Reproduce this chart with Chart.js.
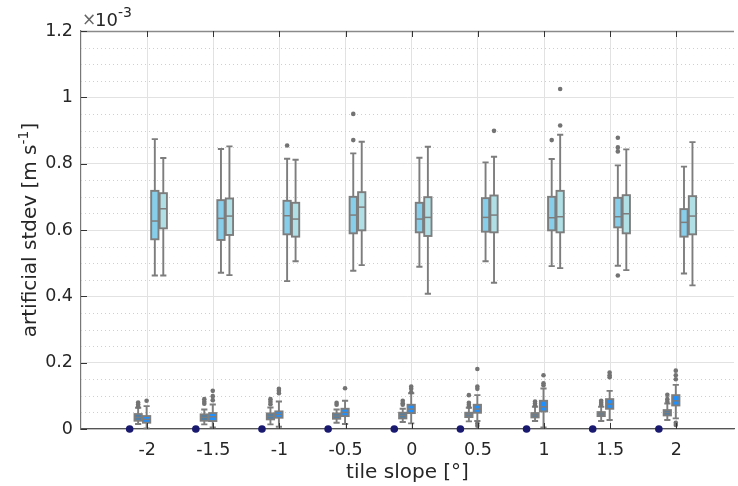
<!DOCTYPE html>
<html>
<head>
<meta charset="utf-8">
<script src="https://cdn.jsdelivr.net/npm/chart.js@4.4.0/dist/chart.umd.min.js"></script>
<style>
  html, body { margin: 0; padding: 0; background: #fff; overflow: hidden; }
</style>
</head>
<body>
<canvas id="myChart" width="738" height="486"></canvas>
<script>
// tile slopes (x categories) and the baseline dots
var slopes = [-2, -1.5, -1, -0.5, 0, 0.5, 1, 1.5, 2];
var baseline = [0, 0, 0, 0, 0, 0, 0, 0, 0];

// box stats per slope, units of 1e-3: [low whisker, q1, median, q3, high whisker]
var smallA = [
  [0.015, 0.025, 0.035, 0.045, 0.064], [0.014, 0.025, 0.035, 0.044, 0.059],
  [0.014, 0.029, 0.038, 0.047, 0.065], [0.019, 0.031, 0.039, 0.047, 0.059],
  [0.021, 0.032, 0.041, 0.049, 0.061], [0.023, 0.036, 0.043, 0.049, 0.064],
  [0.024, 0.035, 0.042, 0.048, 0.067], [0.024, 0.039, 0.045, 0.051, 0.067],
  [0.027, 0.041, 0.050, 0.057, 0.077]
];
var smallB = [
  [0.002, 0.019, 0.029, 0.039, 0.069], [0.005, 0.024, 0.037, 0.048, 0.074],
  [0.007, 0.034, 0.044, 0.053, 0.083], [0.015, 0.039, 0.050, 0.061, 0.085],
  [0.017, 0.048, 0.060, 0.073, 0.108], [0.024, 0.049, 0.060, 0.073, 0.102],
  [0.005, 0.053, 0.067, 0.085, 0.122], [0.027, 0.061, 0.075, 0.090, 0.115],
  [0.032, 0.071, 0.085, 0.102, 0.133]
];
var bigA = [
  [0.463, 0.572, 0.627, 0.718, 0.874], [0.471, 0.570, 0.635, 0.690, 0.844],
  [0.446, 0.587, 0.643, 0.688, 0.815], [0.477, 0.590, 0.645, 0.700, 0.831],
  [0.489, 0.593, 0.633, 0.682, 0.818], [0.506, 0.595, 0.638, 0.696, 0.804],
  [0.491, 0.599, 0.637, 0.700, 0.814], [0.492, 0.608, 0.640, 0.697, 0.795],
  [0.469, 0.580, 0.623, 0.663, 0.791]
];
var bigB = [
  [0.463, 0.605, 0.664, 0.711, 0.817], [0.464, 0.585, 0.642, 0.695, 0.852],
  [0.506, 0.580, 0.633, 0.682, 0.812], [0.494, 0.599, 0.669, 0.714, 0.866],
  [0.408, 0.582, 0.638, 0.699, 0.851], [0.441, 0.593, 0.645, 0.704, 0.821],
  [0.485, 0.593, 0.640, 0.718, 0.887], [0.479, 0.590, 0.649, 0.705, 0.843],
  [0.433, 0.587, 0.642, 0.702, 0.865]
];

// outliers per slope
var smallAOut = [[0.080, 0.074, 0.067], [0.090, 0.082, 0.076], [0.090, 0.082, 0.075], [0.079, 0.073],
  [0.085, 0.078, 0.073], [0.102, 0.079, 0.073, 0.067], [0.083, 0.077, 0.071], [0.085, 0.079, 0.073], [0.103, 0.090, 0.082]];
var smallBOut = [[0.085], [0.115, 0.099, 0.087], [0.121, 0.115, 0.108], [0.123],
  [0.128, 0.121, 0.111], [0.181, 0.128, 0.121, 0.017, 0.010], [0.162, 0.138, 0.132], [0.170, 0.162, 0.156], [0.176, 0.162, 0.150, 0.019, 0.012]];
var bigAOut = [[], [], [0.855], [0.950, 0.871], [], [], [0.871], [0.878, 0.849, 0.837, 0.463], []];
var bigBOut = [[], [], [], [], [], [0.899], [1.025, 0.915], [], []];

var yTicks = [0, 0.2, 0.4, 0.6, 0.8, 1, 1.2];

var FONT = "'DejaVu Sans', sans-serif";
var boxW = 0.055;
var series = [
  {stats: smallA, out: smallAOut, off: -0.068, fill: "#4a7fab"},
  {stats: smallB, out: smallBOut, off: -0.004, fill: "#1e90ff"},
  {stats: bigA, out: bigAOut, off: 0.058, fill: "#87ceeb"},
  {stats: bigB, out: bigBOut, off: 0.122, fill: "#b0e0e6"}
];

function outlierPoints(s) {
  var pts = [];
  slopes.forEach(function (x, i) {
    s.out[i].forEach(function (v) { pts.push({x: x + s.off, y: v}); });
  });
  return pts;
}

var boxPlugin = {
  id: "boxes",
  beforeDatasetsDraw: function (chart) {
    var ctx = chart.ctx, xs = chart.scales.x, ys = chart.scales.y, a = chart.chartArea;
    ctx.save();
    // minor dotted grid
    ctx.strokeStyle = "#cfcfcf";
    ctx.lineWidth = 1;
    ctx.setLineDash([1, 3]);
    for (var k = 1; k < 24; k++) {
      if (k % 4 === 0) continue;
      var yy = Math.round(ys.getPixelForValue(k * 0.05)) + 0.5;
      ctx.beginPath(); ctx.moveTo(a.left, yy); ctx.lineTo(a.right, yy); ctx.stroke();
    }
    ctx.setLineDash([]);
    // boxes
    series.forEach(function (s) {
      slopes.forEach(function (x, i) {
        var st = s.stats[i];
        var xc = xs.getPixelForValue(x + s.off);
        var hw = (xs.getPixelForValue(x + s.off + boxW) - xc) / 2;
        var cw = hw * 0.85;
        var yLo = ys.getPixelForValue(st[0]), yQ1 = ys.getPixelForValue(st[1]),
            yMd = ys.getPixelForValue(st[2]), yQ3 = ys.getPixelForValue(st[3]),
            yHi = ys.getPixelForValue(st[4]);
        ctx.strokeStyle = "#7d7d7d";
        ctx.lineWidth = 1.9;
        ctx.beginPath();
        ctx.moveTo(xc, yHi); ctx.lineTo(xc, yQ3);
        ctx.moveTo(xc, yQ1); ctx.lineTo(xc, yLo);
        ctx.moveTo(xc - cw, yHi); ctx.lineTo(xc + cw, yHi);
        ctx.moveTo(xc - cw, yLo); ctx.lineTo(xc + cw, yLo);
        ctx.stroke();
        ctx.fillStyle = s.fill;
        ctx.fillRect(xc - hw, yQ3, 2 * hw, yQ1 - yQ3);
        ctx.strokeRect(xc - hw, yQ3, 2 * hw, yQ1 - yQ3);
        ctx.lineWidth = 1.5;
        ctx.beginPath();
        ctx.moveTo(xc - hw, yMd); ctx.lineTo(xc + hw, yMd);
        ctx.stroke();
      });
    });
    ctx.restore();
  },
  afterDraw: function (chart) {
    var ctx = chart.ctx, xs = chart.scales.x, ys = chart.scales.y, a = chart.chartArea;
    ctx.save();
    // top box edge
    ctx.strokeStyle = "#8a8a8a";
    ctx.lineWidth = 1.5;
    ctx.beginPath(); ctx.moveTo(a.left, a.top + 0.5); ctx.lineTo(a.right, a.top + 0.5); ctx.stroke();
    // inward tick marks
    ctx.strokeStyle = "#333";
    ctx.lineWidth = 1;
    ctx.beginPath();
    slopes.forEach(function (v) {
      var px = Math.round(xs.getPixelForValue(v)) + 0.5;
      ctx.moveTo(px, a.top); ctx.lineTo(px, a.top + 6);
      ctx.moveTo(px, a.bottom); ctx.lineTo(px, a.bottom - 6);
    });
    yTicks.forEach(function (v) {
      var py = Math.round(ys.getPixelForValue(v)) + 0.5;
      ctx.moveTo(a.left, py); ctx.lineTo(a.left + 6, py);
    });
    ctx.stroke();
    // exponent label
    ctx.textBaseline = "alphabetic";
    ctx.textAlign = "left";
    ctx.fillStyle = "#666";
    ctx.font = "17px " + FONT;
    ctx.fillText("\u00d7", a.left + 1, 25);
    ctx.fillStyle = "#262626";
    ctx.font = "18px " + FONT;
    ctx.fillText("10", a.left + 14, 26);
    ctx.font = "14px " + FONT;
    ctx.fillText("-3", a.left + 37, 17);
    // y axis title with superscript
    var main = "artificial stdev [m s", sup = "-1", tail = "]";
    ctx.font = "20px " + FONT;
    var w1 = ctx.measureText(main).width, w3 = ctx.measureText(tail).width;
    ctx.font = "14px " + FONT;
    var w2 = ctx.measureText(sup).width;
    var total = w1 + w2 + w3;
    ctx.translate(36, (a.top + a.bottom) / 2);
    ctx.rotate(-Math.PI / 2);
    var x0 = -total / 2;
    ctx.font = "20px " + FONT;
    ctx.fillText(main, x0, 0);
    ctx.font = "14px " + FONT;
    ctx.fillText(sup, x0 + w1, -8);
    ctx.font = "20px " + FONT;
    ctx.fillText(tail, x0 + w1 + w2, 0);
    ctx.restore();
  }
};

var datasets = series.map(function (s) {
  return {
    data: outlierPoints(s),
    pointRadius: 2.3,
    pointBackgroundColor: "#737373",
    pointBorderWidth: 0,
    showLine: false
  };
});
datasets.push({
  data: slopes.map(function (x, i) { return {x: x - 0.132, y: baseline[i]}; }),
  pointRadius: 3.8,
  pointBackgroundColor: "#191970",
  pointBorderColor: "#191970",
  pointBorderWidth: 0,
  clip: false
});

var ctx = document.getElementById("myChart").getContext("2d");
var myChart = new Chart(ctx, {
  type: "scatter",
  data: {datasets: datasets},
  options: {
    responsive: false,
    animation: false,
    layout: {padding: {left: 0, right: 0, top: 31, bottom: 0}},
    plugins: {legend: {display: false}, tooltip: {enabled: false}},
    scales: {
      x: {
        type: "linear",
        min: -2.5,
        max: 2.436,
        afterBuildTicks: function (s) { s.ticks = slopes.map(function (v) { return {value: v}; }); },
        afterFit: function (s) { s.height = 57; },
        grid: {color: "#e2e2e2", drawTicks: false},
        border: {color: "#555", width: 1.2},
        ticks: {
          font: {family: FONT, size: 17.5}, color: "#262626", padding: 11,
          maxRotation: 0, autoSkip: false,
          callback: function (v) { return String(v); }
        },
        title: {display: true, text: "tile slope [\u00b0]", font: {family: FONT, size: 20}, color: "#262626", padding: {top: 0, bottom: 1}}
      },
      y: {
        min: 0,
        max: 1.2,
        afterBuildTicks: function (s) { s.ticks = yTicks.map(function (v) { return {value: v}; }); },
        afterFit: function (s) { s.width = 81; },
        grid: {color: "#e2e2e2", drawTicks: false},
        border: {color: "#777", width: 1.2},
        ticks: {
          font: {family: FONT, size: 17.5}, color: "#262626", padding: 8,
          callback: function (v) { return String(v); }
        }
      }
    }
  },
  plugins: [boxPlugin]
});
</script>
</body>
</html>
